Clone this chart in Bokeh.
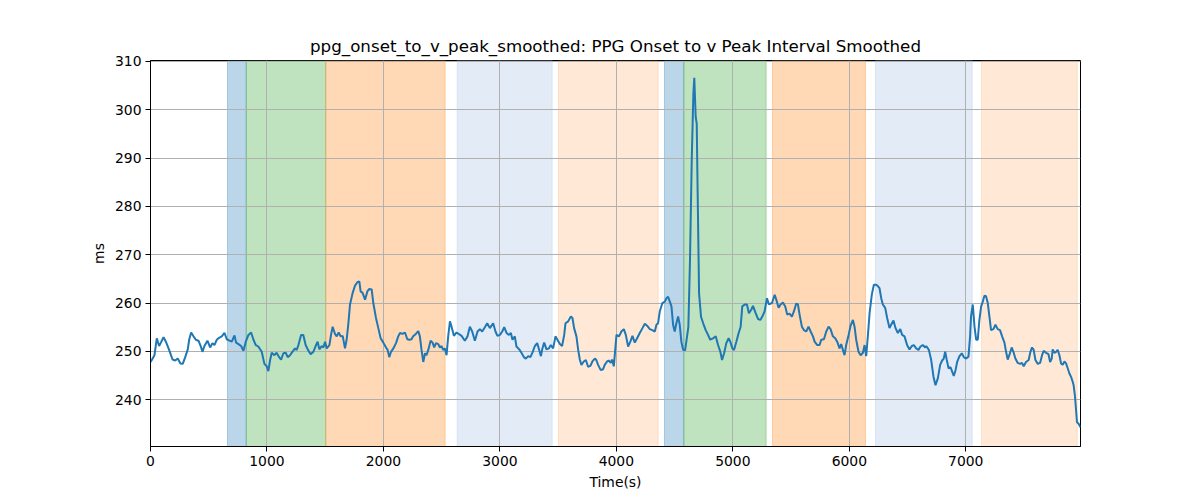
from bokeh.plotting import figure
from bokeh.models import Range1d, FixedTicker, BoxAnnotation, ColumnDataSource
from bokeh.embed import file_html
from bokeh.resources import INLINE

time_s = [0, 11, 34, 54, 74, 89, 112, 132, 160, 189, 212, 234, 257, 277, 298, 320, 332, 349, 369, 389,
          412, 432, 446, 463, 489, 512, 532, 549, 569, 589, 612, 635, 655, 678, 698, 721, 735, 755, 778, 798,
          818, 841, 864, 884, 904, 926, 955, 978, 998, 1012, 1027, 1041, 1064, 1083, 1104, 1121, 1141, 1161, 1178, 1198,
          1218, 1241, 1255, 1270, 1293, 1312, 1332, 1352, 1375, 1398, 1418, 1435, 1450, 1470, 1484, 1499, 1513, 1536, 1550, 1564,
          1584, 1599, 1616, 1633, 1650, 1670, 1684, 1699, 1713, 1736, 1756, 1776, 1793, 1804, 1821, 1842, 1862, 1879, 1899, 1913,
          1936, 1956, 1976, 1999, 2022, 2036, 2050, 2065, 2085, 2108, 2127, 2142, 2164, 2185, 2205, 2222, 2241, 2255, 2278, 2299,
          2313, 2327, 2342, 2357, 2370, 2385, 2405, 2422, 2436, 2451, 2471, 2485, 2499, 2513, 2528, 2542, 2556, 2571, 2585, 2605,
          2628, 2671, 2699, 2722, 2742, 2762, 2785, 2808, 2828, 2848, 2871, 2891, 2914, 2942, 2962, 2979, 3000, 3020, 3037, 3057,
          3077, 3094, 3108, 3128, 3142, 3166, 3185, 3206, 3223, 3243, 3262, 3282, 3300, 3320, 3334, 3352, 3365, 3380, 3400, 3420,
          3437, 3457, 3477, 3494, 3515, 3534, 3552, 3563, 3586, 3609, 3623, 3637, 3657, 3672, 3686, 3700, 3720, 3738, 3757, 3777,
          3794, 3815, 3828, 3843, 3866, 3886, 3900, 3920, 3935, 3952, 3963, 3978, 4001, 4023, 4043, 4064, 4081, 4101, 4120, 4138,
          4158, 4178, 4201, 4224, 4244, 4264, 4287, 4309, 4330, 4344, 4358, 4373, 4395, 4416, 4430, 4444, 4459, 4473, 4487, 4501,
          4515, 4530, 4544, 4558, 4573, 4590, 4618, 4632, 4647, 4661, 4669, 4681, 4690, 4698, 4710, 4727, 4747, 4767, 4787, 4806,
          4830, 4853, 4873, 4893, 4907, 4925, 4944, 4964, 4978, 4996, 5010, 5030, 5050, 5067, 5081, 5102, 5121, 5138, 5158, 5173,
          5196, 5216, 5236, 5253, 5273, 5293, 5310, 5336, 5359, 5373, 5393, 5410, 5430, 5450, 5467, 5487, 5507, 5525, 5544, 5559,
          5573, 5593, 5610, 5630, 5650, 5668, 5688, 5702, 5725, 5745, 5759, 5782, 5802, 5822, 5839, 5859, 5879, 5896, 5916, 5930,
          5945, 5959, 5973, 5994, 6011, 6031, 6045, 6059, 6079, 6097, 6117, 6131, 6145, 6159, 6174, 6193, 6211, 6231, 6245, 6259,
          6274, 6288, 6308, 6325, 6345, 6359, 6379, 6397, 6417, 6437, 6454, 6474, 6496, 6517, 6537, 6554, 6574, 6594, 6611, 6631,
          6651, 6660, 6683, 6703, 6723, 6740, 6760, 6780, 6797, 6811, 6823, 6837, 6852, 6869, 6883, 6897, 6912, 6926, 6946, 6966,
          6983, 7003, 7023, 7037, 7045, 7060, 7075, 7089, 7103, 7117, 7132, 7146, 7160, 7174, 7189, 7203, 7217, 7237, 7255, 7274,
          7294, 7312, 7332, 7346, 7360, 7374, 7394, 7409, 7426, 7446, 7466, 7483, 7497, 7517, 7540, 7555, 7569, 7583, 7598, 7618,
          7638, 7655, 7669, 7689, 7710, 7724, 7738, 7746, 7761, 7775, 7789, 7804, 7818, 7832, 7847, 7861, 7875, 7890, 7904, 7918,
          7926, 7938, 7947, 7955, 7969, 7985]

ms_values = [247.8, 248.2, 249.2, 252.7, 251.1, 251.8, 252.9, 252.0, 250.3, 248.3, 248.1, 248.5, 247.5, 247.4, 248.8, 250.4, 252.4, 253.9, 253.1, 252.4,
             252.2, 251.0, 249.9, 251.1, 252.2, 250.8, 251.7, 251.3, 252.4, 252.8, 253.1, 253.8, 252.5, 252.2, 252.0, 253.3, 251.8, 251.5, 251.1, 250.1,
             252.0, 253.4, 253.9, 252.4, 251.3, 251.0, 249.9, 247.4, 246.9, 245.9, 248.2, 249.7, 249.2, 249.7, 248.8, 248.3, 249.6, 249.7, 248.8, 249.2,
             249.9, 250.6, 250.3, 251.3, 253.4, 253.4, 251.3, 250.3, 249.4, 249.9, 251.1, 252.0, 250.4, 251.1, 250.8, 252.0, 250.6, 251.3, 253.4, 255.1,
             253.6, 253.1, 253.9, 253.1, 253.2, 250.6, 252.4, 255.8, 259.7, 262.1, 263.6, 264.3, 264.5, 262.4, 262.1, 260.7, 262.4, 262.9, 262.8, 260.0,
             256.9, 254.8, 252.7, 251.8, 250.8, 250.3, 248.8, 249.9, 250.6, 251.7, 253.1, 253.8, 253.6, 253.9, 252.5, 252.4, 252.5, 253.1, 253.6, 254.2,
             253.1, 250.3, 247.8, 249.6, 249.2, 250.3, 252.2, 251.8, 250.8, 251.7, 251.5, 250.8, 251.1, 250.3, 250.6, 249.2, 253.1, 256.2, 255.1, 253.2,
             253.9, 253.2, 252.2, 253.1, 255.1, 254.1, 252.2, 254.1, 254.6, 254.1, 255.0, 255.8, 254.8, 255.8, 254.1, 253.2, 253.4, 254.1, 255.0, 253.8,
             253.4, 253.8, 252.4, 253.1, 251.0, 250.4, 249.7, 248.8, 248.5, 249.0, 248.8, 249.9, 251.1, 251.7, 250.6, 249.0, 250.6, 251.8, 250.4, 250.6,
             251.3, 250.6, 253.1, 252.4, 251.5, 251.1, 253.4, 255.8, 256.2, 257.2, 256.9, 254.8, 253.1, 250.3, 248.3, 247.2, 247.9, 248.2, 246.8, 247.0,
             247.9, 248.5, 248.2, 247.2, 246.1, 246.3, 247.2, 247.9, 248.1, 247.6, 248.3, 246.9, 253.4, 253.1, 254.1, 254.6, 253.4, 251.0, 252.0, 253.2,
             251.8, 252.7, 253.8, 254.8, 255.7, 255.3, 254.6, 254.4, 254.1, 255.5, 255.8, 258.3, 260.0, 260.3, 261.0, 261.3, 260.3, 259.3, 255.5, 254.1,
             255.8, 257.2, 255.5, 252.0, 250.3, 250.2, 255.0, 268.8, 289.5, 303.3, 306.6, 298.5, 297.1, 282.6, 262.0, 257.1, 255.7, 254.4, 253.4, 252.4,
             252.7, 253.1, 251.3, 249.9, 248.2, 249.6, 251.7, 252.7, 252.0, 250.6, 250.3, 252.0, 253.8, 255.1, 259.3, 259.7, 259.7, 257.9, 258.6, 259.4,
             257.9, 256.7, 256.5, 257.2, 258.3, 261.0, 259.7, 260.0, 261.7, 260.7, 259.0, 259.7, 260.1, 259.3, 257.6, 257.8, 257.2, 258.3, 259.9, 259.7,
             257.6, 255.1, 254.4, 254.1, 255.1, 254.1, 253.1, 252.0, 251.3, 251.3, 252.4, 252.5, 254.1, 255.1, 254.6, 253.1, 252.7, 252.0, 250.6, 251.5,
             250.3, 249.2, 251.3, 253.4, 255.3, 256.5, 255.1, 252.4, 249.9, 249.2, 249.7, 251.3, 249.0, 253.1, 257.9, 261.7, 263.8, 263.8, 263.5, 263.1,
             261.0, 259.7, 259.0, 256.9, 254.8, 255.5, 256.4, 254.8, 253.8, 254.6, 253.4, 253.1, 251.3, 250.4, 251.1, 251.3, 250.6, 250.3, 251.0, 251.3,
             250.8, 251.1, 250.3, 248.2, 244.7, 243.0, 244.4, 247.2, 248.1, 248.5, 249.9, 248.2, 246.5, 246.7, 245.8, 244.9, 246.1, 247.8, 249.0, 249.6,
             248.8, 248.5, 248.9, 253.1, 257.2, 259.7, 255.1, 252.4, 252.4, 256.5, 259.3, 260.3, 261.5, 261.4, 260.0, 257.2, 254.4, 254.6, 255.5, 254.6,
             254.4, 253.1, 251.8, 249.9, 248.3, 249.2, 250.8, 249.9, 248.5, 247.6, 247.4, 247.6, 246.9, 247.8, 248.2, 249.9, 250.8, 250.3, 248.2, 247.4,
             247.6, 249.2, 250.1, 249.7, 249.4, 247.8, 248.5, 250.4, 249.7, 249.9, 250.3, 249.2, 247.5, 247.2, 247.9, 247.5, 246.5, 245.4, 244.7, 243.7,
             243.0, 240.6, 237.8, 235.3, 235.0, 234.3]

band_start = [661, 822, 1505, 2633, 3503, 4413, 4579, 5340, 6225, 7135]
band_end = [822, 1505, 2530, 3449, 4359, 4579, 5286, 6139, 7055, 7957]
band_color = ["#1f77b4", "#2ca02c", "#ff7f0e", "#aec7e8", "#ff7f0e",
              "#1f77b4", "#2ca02c", "#ff7f0e", "#aec7e8", "#ff7f0e"]
band_alpha = [0.3, 0.3, 0.3, 0.35, 0.17, 0.3, 0.3, 0.3, 0.35, 0.17]

x_ticks = [0, 1000, 2000, 3000, 4000, 5000, 6000, 7000]
y_ticks = [240, 250, 260, 270, 280, 290, 300, 310]

FONT = "DejaVu Sans"

p = figure(width=1200, height=500, output_backend="svg", toolbar_location=None,
           x_range=Range1d(0, 7985), y_range=Range1d(230.3, 310.2),
           min_border_left=150, min_border_right=120, min_border_top=60, min_border_bottom=54,
           title="ppg_onset_to_v_peak_smoothed: PPG Onset to v Peak Interval Smoothed")

p.title.align = "center"
p.title.text_font = FONT
p.title.text_font_size = "16.7px"
p.title.text_font_style = "normal"
p.title.text_color = "black"

for s, e, c, a in zip(band_start, band_end, band_color, band_alpha):
    p.add_layout(BoxAnnotation(left=s, right=e, fill_color=c, fill_alpha=a,
                               line_color=c, line_alpha=a, line_width=1, level="image"))

src = ColumnDataSource(data=dict(x=time_s, y=ms_values))
p.line("x", "y", source=src, line_color="#1f77b4", line_width=2)

p.xaxis.ticker = FixedTicker(ticks=x_ticks)
p.yaxis.ticker = FixedTicker(ticks=y_ticks)
p.xaxis.axis_label = "Time(s)"
p.yaxis.axis_label = "ms"
for ax in (p.xaxis, p.yaxis):
    ax.axis_label_text_font = FONT
    ax.axis_label_text_font_size = "13.9px"
    ax.axis_label_text_font_style = "normal"
    ax.axis_label_text_color = "black"
    ax.major_label_text_font = FONT
    ax.major_label_text_font_size = "13.9px"
    ax.major_label_text_color = "black"
    ax.axis_line_color = "black"
    ax.major_tick_line_color = "black"
    ax.major_tick_out = 5
    ax.major_tick_in = 0
    ax.minor_tick_line_color = None
    ax.major_label_standoff = 4
    ax.axis_label_standoff = 5

p.xgrid.grid_line_color = "#b0b0b0"
p.ygrid.grid_line_color = "#b0b0b0"
p.xgrid.grid_line_width = 1
p.ygrid.grid_line_width = 1
p.outline_line_color = "black"
p.outline_line_alpha = 1
p.outline_line_width = 1
p.background_fill_color = "white"
p.border_fill_color = "white"

open("out.html", "w").write(file_html(p, INLINE))
